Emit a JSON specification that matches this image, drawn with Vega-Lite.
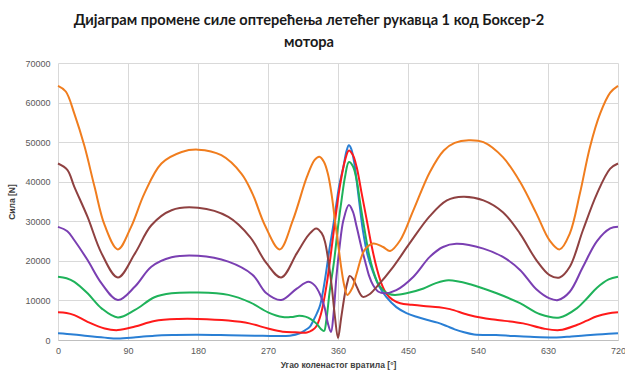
{
  "$schema": "https://vega.github.io/schema/vega-lite/v6.json",
  "width": 560,
  "height": 277,
  "autosize": {"type": "none"},
  "padding": {"left": 58, "top": 63, "right": 7, "bottom": 33},
  "background": "white",
  "title": {
    "text": ["Дијаграм промене силе оптерећења летећег рукавца 1 код Боксер-2", "мотора"],
    "font": "Lato",
    "fontSize": 14.6,
    "fontWeight": "bold",
    "color": "#1a1a1a",
    "anchor": "middle",
    "frame": "group",
    "dx": -29,
    "offset": 9,
    "lineHeight": 22
  },
  "config": {
    "view": {"stroke": null},
    "font": "Liberation Sans"
  },
  "datasets": {
    "curves": [
      {"s":"1","a":0,"f":1700},{"s":"1","a":20,"f":1400},{"s":"1","a":38,"f":1000},{"s":"1","a":60,"f":600},{"s":"1","a":77,"f":400},{"s":"1","a":100,"f":700},{"s":"1","a":124,"f":1100},{"s":"1","a":150,"f":1250},{"s":"1","a":180,"f":1300},{"s":"1","a":220,"f":1200},{"s":"1","a":253,"f":1100},{"s":"1","a":280,"f":1000},{"s":"1","a":298,"f":1100},{"s":"1","a":311,"f":1700},{"s":"1","a":318,"f":2500},{"s":"1","a":324,"f":3400},{"s":"1","a":328,"f":4800},{"s":"1","a":333,"f":6800},{"s":"1","a":337,"f":8800},{"s":"1","a":341,"f":12600},{"s":"1","a":345,"f":17500},{"s":"1","a":349,"f":23000},{"s":"1","a":354,"f":29000},{"s":"1","a":358,"f":34500},{"s":"1","a":362,"f":39500},{"s":"1","a":367,"f":43800},{"s":"1","a":371,"f":47800},{"s":"1","a":374,"f":49200},{"s":"1","a":377,"f":48300},{"s":"1","a":381,"f":44600},{"s":"1","a":386,"f":37000},{"s":"1","a":392,"f":27700},{"s":"1","a":398,"f":21500},{"s":"1","a":405,"f":17200},{"s":"1","a":413,"f":13500},{"s":"1","a":422,"f":10900},{"s":"1","a":435,"f":8300},{"s":"1","a":448,"f":6800},{"s":"1","a":462,"f":5800},{"s":"1","a":474,"f":5100},{"s":"1","a":488,"f":4400},{"s":"1","a":500,"f":3500},{"s":"1","a":510,"f":2700},{"s":"1","a":521,"f":2000},{"s":"1","a":535,"f":1400},{"s":"1","a":563,"f":1250},{"s":"1","a":585,"f":1000},{"s":"1","a":607,"f":800},{"s":"1","a":641,"f":650},{"s":"1","a":660,"f":900},{"s":"1","a":680,"f":1200},{"s":"1","a":700,"f":1450},{"s":"1","a":720,"f":1700},
      {"s":"2","a":0,"f":7000},{"s":"2","a":11,"f":6850},{"s":"2","a":21,"f":6300},{"s":"2","a":38,"f":4600},{"s":"2","a":60,"f":2900},{"s":"2","a":77,"f":2500},{"s":"2","a":99,"f":3400},{"s":"2","a":124,"f":4800},{"s":"2","a":155,"f":5300},{"s":"2","a":180,"f":5300},{"s":"2","a":219,"f":4900},{"s":"2","a":246,"f":4200},{"s":"2","a":270,"f":2900},{"s":"2","a":289,"f":2100},{"s":"2","a":305,"f":1950},{"s":"2","a":320,"f":1900},{"s":"2","a":327,"f":2500},{"s":"2","a":332,"f":3400},{"s":"2","a":338,"f":6500},{"s":"2","a":345,"f":13500},{"s":"2","a":351,"f":22000},{"s":"2","a":358,"f":32800},{"s":"2","a":363,"f":39500},{"s":"2","a":369,"f":45400},{"s":"2","a":374,"f":47900},{"s":"2","a":379,"f":46800},{"s":"2","a":384,"f":43700},{"s":"2","a":390,"f":37500},{"s":"2","a":397,"f":30300},{"s":"2","a":403,"f":24000},{"s":"2","a":410,"f":18000},{"s":"2","a":416,"f":14200},{"s":"2","a":422,"f":11800},{"s":"2","a":430,"f":10200},{"s":"2","a":440,"f":9300},{"s":"2","a":455,"f":8900},{"s":"2","a":470,"f":8600},{"s":"2","a":490,"f":8300},{"s":"2","a":504,"f":7800},{"s":"2","a":527,"f":6400},{"s":"2","a":545,"f":5600},{"s":"2","a":563,"f":5100},{"s":"2","a":598,"f":4200},{"s":"2","a":624,"f":2900},{"s":"2","a":645,"f":2500},{"s":"2","a":667,"f":3800},{"s":"2","a":680,"f":4900},{"s":"2","a":693,"f":6000},{"s":"2","a":707,"f":6700},{"s":"2","a":720,"f":7000},
      {"s":"3","a":0,"f":16000},{"s":"3","a":11,"f":15600},{"s":"3","a":21,"f":14700},{"s":"3","a":38,"f":11800},{"s":"3","a":56,"f":8000},{"s":"3","a":77,"f":5700},{"s":"3","a":99,"f":7600},{"s":"3","a":124,"f":10800},{"s":"3","a":146,"f":11800},{"s":"3","a":180,"f":12000},{"s":"3","a":219,"f":11400},{"s":"3","a":247,"f":9500},{"s":"3","a":270,"f":7000},{"s":"3","a":289,"f":5800},{"s":"3","a":300,"f":5800},{"s":"3","a":310,"f":6100},{"s":"3","a":318,"f":5900},{"s":"3","a":325,"f":5300},{"s":"3","a":332,"f":4200},{"s":"3","a":338,"f":2800},{"s":"3","a":342,"f":2300},{"s":"3","a":345,"f":5000},{"s":"3","a":349,"f":11800},{"s":"3","a":355,"f":20000},{"s":"3","a":360,"f":28600},{"s":"3","a":365,"f":36000},{"s":"3","a":369,"f":41200},{"s":"3","a":374,"f":45000},{"s":"3","a":379,"f":44000},{"s":"3","a":384,"f":40400},{"s":"3","a":389,"f":34000},{"s":"3","a":395,"f":26900},{"s":"3","a":400,"f":21500},{"s":"3","a":405,"f":17700},{"s":"3","a":411,"f":14500},{"s":"3","a":418,"f":12600},{"s":"3","a":425,"f":11700},{"s":"3","a":433,"f":11400},{"s":"3","a":448,"f":11800},{"s":"3","a":470,"f":13000},{"s":"3","a":485,"f":14300},{"s":"3","a":502,"f":15100},{"s":"3","a":530,"f":14100},{"s":"3","a":564,"f":11800},{"s":"3","a":594,"f":9300},{"s":"3","a":620,"f":6500},{"s":"3","a":645,"f":5700},{"s":"3","a":667,"f":8000},{"s":"3","a":680,"f":10500},{"s":"3","a":693,"f":13200},{"s":"3","a":708,"f":15300},{"s":"3","a":720,"f":16000},
      {"s":"4","a":0,"f":28600},{"s":"4","a":12,"f":27500},{"s":"4","a":21,"f":25200},{"s":"4","a":38,"f":20200},{"s":"4","a":56,"f":14300},{"s":"4","a":77,"f":10100},{"s":"4","a":99,"f":13500},{"s":"4","a":120,"f":18500},{"s":"4","a":146,"f":20900},{"s":"4","a":180,"f":21300},{"s":"4","a":219,"f":19800},{"s":"4","a":250,"f":16500},{"s":"4","a":268,"f":11800},{"s":"4","a":287,"f":10100},{"s":"4","a":307,"f":13000},{"s":"4","a":322,"f":14700},{"s":"4","a":330,"f":13800},{"s":"4","a":337,"f":11500},{"s":"4","a":343,"f":8000},{"s":"4","a":347,"f":4200},{"s":"4","a":351,"f":2000},{"s":"4","a":354,"f":6000},{"s":"4","a":358,"f":16000},{"s":"4","a":362,"f":23500},{"s":"4","a":367,"f":30300},{"s":"4","a":374,"f":34100},{"s":"4","a":379,"f":32500},{"s":"4","a":384,"f":28600},{"s":"4","a":390,"f":23500},{"s":"4","a":395,"f":19800},{"s":"4","a":400,"f":16200},{"s":"4","a":405,"f":13900},{"s":"4","a":412,"f":12200},{"s":"4","a":420,"f":11800},{"s":"4","a":435,"f":12600},{"s":"4","a":457,"f":16000},{"s":"4","a":478,"f":21000},{"s":"4","a":495,"f":23500},{"s":"4","a":512,"f":24300},{"s":"4","a":547,"f":23100},{"s":"4","a":572,"f":21000},{"s":"4","a":594,"f":17700},{"s":"4","a":615,"f":12800},{"s":"4","a":632,"f":10500},{"s":"4","a":643,"f":10100},{"s":"4","a":658,"f":12200},{"s":"4","a":675,"f":18500},{"s":"4","a":693,"f":25000},{"s":"4","a":710,"f":28200},{"s":"4","a":720,"f":28600},
      {"s":"5","a":0,"f":44600},{"s":"5","a":12,"f":43000},{"s":"5","a":21,"f":38700},{"s":"5","a":38,"f":31100},{"s":"5","a":56,"f":21900},{"s":"5","a":77,"f":15800},{"s":"5","a":99,"f":21900},{"s":"5","a":120,"f":29000},{"s":"5","a":146,"f":32800},{"s":"5","a":180,"f":33400},{"s":"5","a":219,"f":31100},{"s":"5","a":247,"f":26000},{"s":"5","a":268,"f":19400},{"s":"5","a":287,"f":15800},{"s":"5","a":307,"f":21900},{"s":"5","a":322,"f":26500},{"s":"5","a":332,"f":28200},{"s":"5","a":339,"f":27000},{"s":"5","a":343,"f":25000},{"s":"5","a":348,"f":19500},{"s":"5","a":352,"f":13500},{"s":"5","a":356,"f":6000},{"s":"5","a":360,"f":500},{"s":"5","a":364,"f":5500},{"s":"5","a":369,"f":11800},{"s":"5","a":372,"f":14500},{"s":"5","a":375,"f":16200},{"s":"5","a":379,"f":15500},{"s":"5","a":384,"f":13500},{"s":"5","a":388,"f":11800},{"s":"5","a":392,"f":10900},{"s":"5","a":400,"f":11500},{"s":"5","a":410,"f":13500},{"s":"5","a":431,"f":18500},{"s":"5","a":452,"f":24400},{"s":"5","a":478,"f":31300},{"s":"5","a":500,"f":35300},{"s":"5","a":521,"f":36200},{"s":"5","a":547,"f":35300},{"s":"5","a":572,"f":32300},{"s":"5","a":594,"f":26900},{"s":"5","a":615,"f":20200},{"s":"5","a":632,"f":16400},{"s":"5","a":645,"f":15800},{"s":"5","a":658,"f":18500},{"s":"5","a":675,"f":27800},{"s":"5","a":693,"f":37000},{"s":"5","a":710,"f":43300},{"s":"5","a":720,"f":44600},
      {"s":"6","a":0,"f":64200},{"s":"6","a":10,"f":62800},{"s":"6","a":21,"f":57200},{"s":"6","a":34,"f":49000},{"s":"6","a":47,"f":38700},{"s":"6","a":60,"f":29000},{"s":"6","a":77,"f":22900},{"s":"6","a":94,"f":28600},{"s":"6","a":111,"f":37000},{"s":"6","a":133,"f":44600},{"s":"6","a":159,"f":47500},{"s":"6","a":180,"f":48100},{"s":"6","a":210,"f":46700},{"s":"6","a":236,"f":42000},{"s":"6","a":250,"f":37000},{"s":"6","a":266,"f":29000},{"s":"6","a":285,"f":22900},{"s":"6","a":302,"f":30300},{"s":"6","a":320,"f":41200},{"s":"6","a":330,"f":45500},{"s":"6","a":336,"f":46300},{"s":"6","a":342,"f":45000},{"s":"6","a":347,"f":42000},{"s":"6","a":352,"f":36500},{"s":"6","a":356,"f":30300},{"s":"6","a":360,"f":24500},{"s":"6","a":364,"f":18500},{"s":"6","a":368,"f":13800},{"s":"6","a":372,"f":11400},{"s":"6","a":378,"f":13000},{"s":"6","a":384,"f":16800},{"s":"6","a":394,"f":22700},{"s":"6","a":405,"f":24400},{"s":"6","a":418,"f":23500},{"s":"6","a":427,"f":22500},{"s":"6","a":440,"f":25200},{"s":"6","a":457,"f":32800},{"s":"6","a":478,"f":42400},{"s":"6","a":496,"f":47900},{"s":"6","a":510,"f":49800},{"s":"6","a":528,"f":50500},{"s":"6","a":547,"f":50000},{"s":"6","a":572,"f":46200},{"s":"6","a":594,"f":40000},{"s":"6","a":615,"f":32000},{"s":"6","a":632,"f":25200},{"s":"6","a":645,"f":22900},{"s":"6","a":658,"f":26900},{"s":"6","a":671,"f":37000},{"s":"6","a":684,"f":48800},{"s":"6","a":697,"f":57200},{"s":"6","a":710,"f":62500},{"s":"6","a":720,"f":64200}
    ]
  },
  "data": {"name": "curves"},
  "mark": {"type": "line", "interpolate": "catmull-rom", "strokeWidth": 2},
  "encoding": {
    "x": {
      "field": "a",
      "type": "quantitative",
      "scale": {"domain": [0, 720], "nice": false, "zero": false},
      "axis": {
        "title": "Угао коленастог вратила [°]",
        "titleFontSize": 8.5,
        "titleFontWeight": "bold",
        "titleColor": "#404040",
        "titlePadding": 5,
        "values": [0, 90, 180, 270, 360, 450, 540, 630, 720],
        "labelFontSize": 9,
        "labelColor": "#595959",
        "labelPadding": 6,
        "ticks": false,
        "domainColor": "#bfbfbf",
        "gridColor": "#d9d9d9",
        "labelFlush": false
      }
    },
    "y": {
      "field": "f",
      "type": "quantitative",
      "scale": {"domain": [0, 70000], "nice": false},
      "axis": {
        "title": "Сила [N]",
        "titleFontSize": 8.5,
        "titleFontWeight": "bold",
        "titleColor": "#404040",
        "titlePadding": 8,
        "values": [0, 10000, 20000, 30000, 40000, 50000, 60000, 70000],
        "format": "d",
        "labelFontSize": 9,
        "labelColor": "#595959",
        "labelPadding": 8,
        "ticks": false,
        "domain": false,
        "gridColor": "#d9d9d9"
      }
    },
    "color": {
      "field": "s",
      "type": "nominal",
      "scale": {
        "domain": ["1", "2", "3", "4", "5", "6"],
        "range": ["#2a7fd4", "#ff1a1a", "#1fb25a", "#7a3fb2", "#8f4141", "#f07d1e"]
      },
      "legend": null
    }
  }
}
